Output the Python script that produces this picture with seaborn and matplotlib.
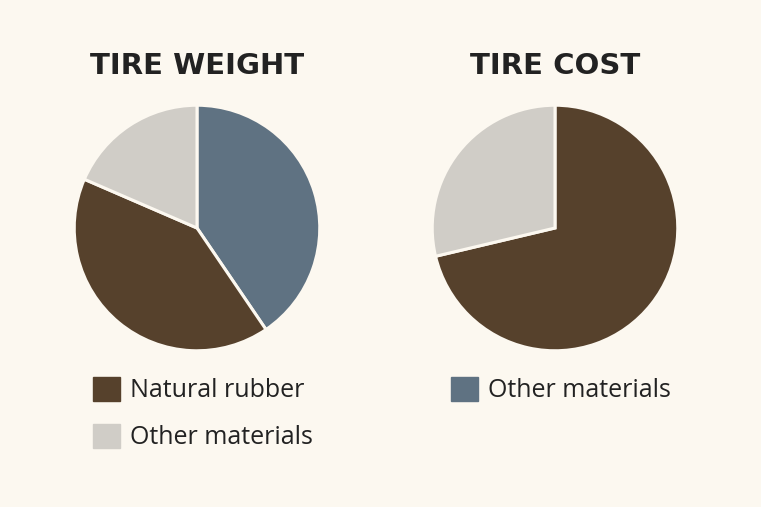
import matplotlib
matplotlib.use("Agg")
import matplotlib.pyplot as plt
import seaborn as sns
from matplotlib.patches import Patch

# values (percent of total)
weight_labels = ["Other materials", "Natural rubber", "Other materials"]
weight_values = [40.5, 41.0, 18.5]
cost_labels = ["Natural rubber", "Other materials"]
cost_values = [71.3, 28.7]

titles = ["TIRE WEIGHT", "TIRE COST"]
left_legend_labels = ["Natural rubber", "Other materials"]
right_legend_labels = ["Other materials"]

BROWN = "#56412c"
BLUE = "#5f7282"
GREY = "#d0cdc7"
BG = "#fcf8f0"
INK = "#222222"

W, H = 761, 507

sns.set_theme(style="white")
plt.rcParams["font.family"] = ["Open Sans", "DejaVu Sans"]

fig = plt.figure(figsize=(W / 100, H / 100), dpi=100, facecolor=BG)


def px_axes(cx, cy, r):
    # axes box for a pie centred at pixel (cx, cy) with radius r
    return fig.add_axes([(cx - r) / W, (H - cy - r) / H, 2 * r / W, 2 * r / H])


def draw_pie(ax, values, colors):
    ax.pie(values, colors=colors, startangle=90, counterclock=False,
           radius=1.0, wedgeprops=dict(edgecolor=BG, linewidth=2.2))
    ax.set_xlim(-1.01, 1.01)
    ax.set_ylim(-1.01, 1.01)
    ax.set_aspect("equal")
    ax.axis("off")


ax1 = px_axes(197, 228, 124)
draw_pie(ax1, weight_values, [BLUE, BROWN, GREY])
ax2 = px_axes(555, 228, 124)
draw_pie(ax2, cost_values, [BROWN, GREY])

for x, t in zip([197, 555], titles):
    fig.text(x / W, 1 - 74 / H, t, ha="center", va="baseline",
             fontsize=21, fontweight="bold", color=INK, family="DejaVu Sans")

leg_kw = dict(frameon=False, fontsize=18, handlelength=1.08, handleheight=1.08,
              handletextpad=0.42, labelspacing=0.82, borderpad=0, borderaxespad=0,
              loc="upper left", labelcolor=INK)
fig.legend(handles=[Patch(color=c) for c in [BROWN, GREY]], labels=left_legend_labels,
           bbox_to_anchor=(93 / W, 1 - 377 / H), **leg_kw)
fig.legend(handles=[Patch(color=BLUE)], labels=right_legend_labels,
           bbox_to_anchor=(451 / W, 1 - 377 / H), **leg_kw)

fig.savefig("out.png", dpi=100, facecolor=BG)
